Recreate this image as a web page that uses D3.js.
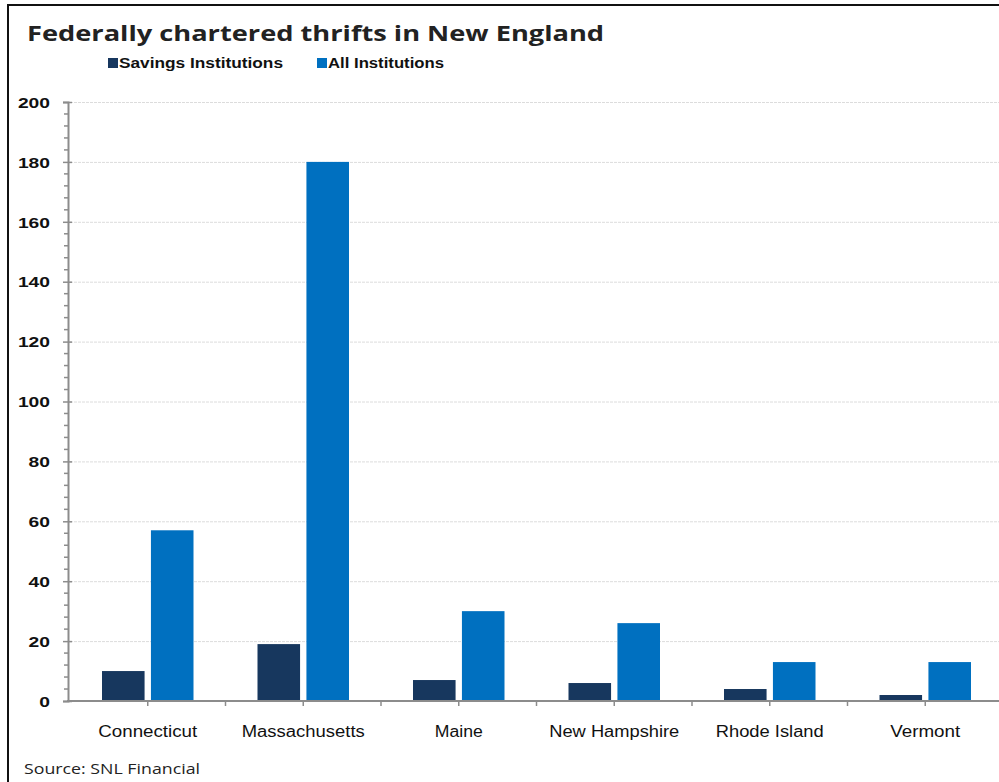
<!DOCTYPE html>
<html><head><meta charset="utf-8">
<script src="https://cdn.jsdelivr.net/npm/d3@7"></script>
<style>body{margin:0;background:#fff}svg{display:block}</style>
</head><body>
<svg id="c" width="999" height="782"></svg>
<script>
const categories = ["Connecticut","Massachusetts","Maine","New Hampshire","Rhode Island","Vermont"];
const seriesNames = ["Savings Institutions","All Institutions"];
const savings = [10,19,7,6,4,2];
const allInst = [57,180,30,26,13,13];
const yTicks = [0,20,40,60,80,100,120,140,160,180,200];
const colors = ["#17375e","#0070c0"];

const svg = d3.select("#c");
const W = 999, H = 782;
svg.append("rect").attr("width",W).attr("height",H).attr("fill","#fff");

const y = d3.scaleLinear().domain([0,200]).range([701,102]);
const x0 = d3.scaleBand().domain(categories).range([70,1003]);
const x1 = d3.scaleBand().domain(seriesNames).range([32, x0.bandwidth()-32]).paddingInner(0.13);

// gridlines
svg.append("g").selectAll("line").data(yTicks.filter(d=>d>0)).join("line")
  .attr("x1",70).attr("x2",W).attr("y1",d=>y(d)+0.5).attr("y2",d=>y(d)+0.5)
  .attr("stroke","#dcdcdc").attr("stroke-width",1).attr("stroke-dasharray","3,1");

// bars
const data = categories.map((c,i)=>({cat:c, vals:[savings[i], allInst[i]]}));
const g = svg.append("g");
data.forEach(d=>{
  d.vals.forEach((v,j)=>{
    g.append("rect")
      .attr("x", x0(d.cat)+x1(seriesNames[j]))
      .attr("width", x1.bandwidth())
      .attr("y", y(v))
      .attr("height", y(0)-y(v))
      .attr("fill", colors[j]);
  });
});

// y axis
const yAxis = d3.axisLeft(y).tickValues(yTicks).tickSize(5).tickFormat(d3.format("d"));
const ya = svg.append("g").attr("transform","translate(68,0)").call(yAxis);
ya.select(".domain").attr("stroke","#8c8c8c").attr("stroke-width",2);
ya.selectAll(".tick line").attr("stroke","#8c8c8c").attr("stroke-width",1.5).attr("x2",-5).attr("x1",4);
ya.selectAll(".tick text").attr("x",-18).attr("font-family","Liberation Sans, Arial, sans-serif")
  .attr("font-weight","bold").attr("font-size","15px").attr("fill","#111").attr("dy","0.35em")
  .each(function(){ const n=this.textContent.length; this.setAttribute("textLength", n*10.7); this.setAttribute("lengthAdjust","spacingAndGlyphs"); });
// minor ticks
const minor = d3.range(0,201,4).filter(d=>d%20!==0);
svg.append("g").selectAll("line").data(minor).join("line")
  .attr("x1",64).attr("x2",68).attr("y1",d=>y(d)).attr("y2",d=>y(d))
  .attr("stroke","#8c8c8c").attr("stroke-width",1.5);

// x axis baseline
svg.append("line").attr("x1",67).attr("x2",W).attr("y1",y(0)).attr("y2",y(0))
  .attr("stroke","#8c8c8c").attr("stroke-width",2);
// x ticks at boundaries and centers
const xt = [];
categories.forEach(c=>{ xt.push(x0(c)+x0.bandwidth()/2); xt.push(x0(c)+x0.bandwidth()); });
svg.append("g").selectAll("line").data(xt.filter(v=>v<W)).join("line")
  .attr("x1",d=>d).attr("x2",d=>d).attr("y1",y(0)).attr("y2",y(0)+5)
  .attr("stroke","#8c8c8c").attr("stroke-width",1.5);
// x labels
const labW = {"Connecticut":99,"Massachusetts":123,"Maine":48,"New Hampshire":130,"Rhode Island":108,"Vermont":70};
svg.append("g").selectAll("text").data(categories).join("text")
  .attr("x",d=>x0(d)+x0.bandwidth()/2).attr("y",737)
  .attr("text-anchor","middle").attr("font-family","Liberation Sans, Arial, sans-serif")
  .attr("font-size","16px").attr("fill","#111")
  .attr("textLength",d=>labW[d]).attr("lengthAdjust","spacingAndGlyphs")
  .text(d=>d);

// title
svg.append("text").attr("x",27).attr("y",41)
  .attr("font-family","Open Sans, sans-serif").attr("font-weight","bold").attr("font-size","22px")
  .attr("fill","#222").attr("textLength",577).attr("lengthAdjust","spacingAndGlyphs")
  .text("Federally chartered thrifts in New England");

// legend
const legX = [108, 317], legW = [164, 116];
seriesNames.forEach((s,i)=>{
  svg.append("rect").attr("x",legX[i]).attr("y",58).attr("width",10).attr("height",10).attr("fill",colors[i]);
  svg.append("text").attr("x",legX[i]+11).attr("y",68)
    .attr("font-family","Liberation Sans, Arial, sans-serif").attr("font-weight","bold").attr("font-size","14px")
    .attr("fill","#111").attr("textLength",legW[i]).attr("lengthAdjust","spacingAndGlyphs").text(s);
});

// source
svg.append("text").attr("x",24).attr("y",774)
  .attr("font-family","Open Sans, sans-serif").attr("font-size","15px").attr("fill","#222")
  .attr("textLength",176).attr("lengthAdjust","spacingAndGlyphs").text("Source: SNL Financial");

// border (left and top)
svg.append("line").attr("x1",8).attr("x2",8).attr("y1",4).attr("y2",H).attr("stroke","#111").attr("stroke-width",2);
svg.append("line").attr("x1",7).attr("x2",W).attr("y1",5).attr("y2",5).attr("stroke","#111").attr("stroke-width",2);
</script>
</body></html>
